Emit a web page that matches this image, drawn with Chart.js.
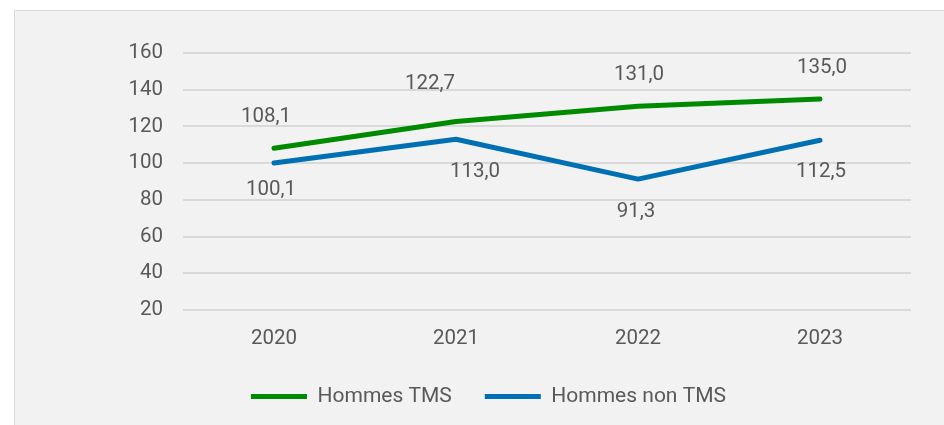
<!DOCTYPE html>
<html>
	<head>
		<title>Hommes TMS / non TMS</title>
		<script src="https://cdn.jsdelivr.net/npm/chart.js@4.4.1/dist/chart.umd.min.js"></script>
		<style>
			body {
				margin: 0;
				background: #ffffff;
			}
			.panel {
				position: absolute;
				left: 14px;
				top: 10px;
				width: 940px;
				height: 420px;
				background: #f2f2f2;
				border: 1px solid #d9d9d9;
			}
			.chart-container {
				position: absolute;
				left: 0;
				top: 0;
				width: 944px;
				height: 425px;
			}
		</style>
	</head>
	<body>
		<div class="panel"></div>
		<div class="chart-container">
			<canvas id="lineChart" width="944" height="425"></canvas>
		</div>
		<script>
			// Data
			const years = ["2020", "2021", "2022", "2023"];
			const hommesTms = [108.1, 122.7, 131.0, 135.0];
			const hommesNonTms = [100.1, 113.0, 91.3, 112.5];

			// label placement per point (dx, dy from the point), like the original
			const labelOffsets = [
				[[-8, -31], [-26, -38], [1, -31], [2, -31]],
				[[-3, 27], [19, 33], [-2, 33], [1, 32]],
			];

			const textColor = "#595959";
			const fontFamily = "Roboto, 'Liberation Sans', sans-serif";

			const fmt = (v) => v.toFixed(1).replace(".", ",");

			const valueLabels = {
				id: "valueLabels",
				afterDatasetsDraw(chart) {
					const ctx = chart.ctx;
					ctx.save();
					ctx.font = "20.5px " + fontFamily;
					ctx.fillStyle = textColor;
					ctx.textAlign = "center";
					ctx.textBaseline = "middle";
					chart.data.datasets.forEach((ds, di) => {
						const meta = chart.getDatasetMeta(di);
						meta.data.forEach((pt, i) => {
							const off = labelOffsets[di][i];
							ctx.fillText(fmt(ds.data[i]), pt.x + off[0], pt.y + off[1]);
						});
					});
					ctx.restore();
				},
			};

			// the legend sits a bit right of the plot centre in the original
			const legendShift = {
				id: "legendShift",
				afterLayout(chart) {
					chart.legend.left += 33;
					chart.legend.right += 33;
				},
			};

			const data = {
				labels: years,
				datasets: [
					{
						label: "Hommes TMS",
						data: hommesTms,
						borderColor: "#008a00",
						backgroundColor: "#008a00",
						borderWidth: 5,
						borderCapStyle: "round",
						borderJoinStyle: "round",
						pointRadius: 0,
						tension: 0,
					},
					{
						label: "Hommes non TMS",
						data: hommesNonTms,
						borderColor: "#0070b2",
						backgroundColor: "#0070b2",
						borderWidth: 5,
						borderCapStyle: "round",
						borderJoinStyle: "round",
						pointRadius: 0,
						tension: 0,
					},
				],
			};

			const config = {
				type: "line",
				data: data,
				options: {
					responsive: false,
					animation: false,
					layout: {
						padding: { left: 0, right: 33, top: 53, bottom: 8 },
					},
					plugins: {
						legend: {
							position: "bottom",
							labels: {
								usePointStyle: true,
								pointStyle: "line",
								pointStyleWidth: 56,
								boxHeight: 5,
								padding: 33,
								color: textColor,
								font: { family: fontFamily, size: 21 },
							},
						},
						tooltip: { enabled: false },
					},
					scales: {
						x: {
							offset: true,
							grid: { display: false },
							border: { display: false },
							ticks: {
								color: textColor,
								padding: 9,
								font: { family: fontFamily, size: 20.5 },
							},
							afterFit: (s) => {
								s.height = 43;
							},
						},
						y: {
							min: 20,
							max: 160,
							ticks: {
								stepSize: 20,
								color: textColor,
								padding: 20,
								font: { family: fontFamily, size: 20.5 },
							},
							grid: {
								color: "#d9d9d9",
								lineWidth: 2,
								drawTicks: false,
							},
							border: { display: false },
							afterFit: (s) => {
								s.width = 183;
							},
						},
					},
				},
				plugins: [valueLabels, legendShift],
			};

			new Chart(document.getElementById("lineChart"), config);
		</script>
	</body>
</html>
